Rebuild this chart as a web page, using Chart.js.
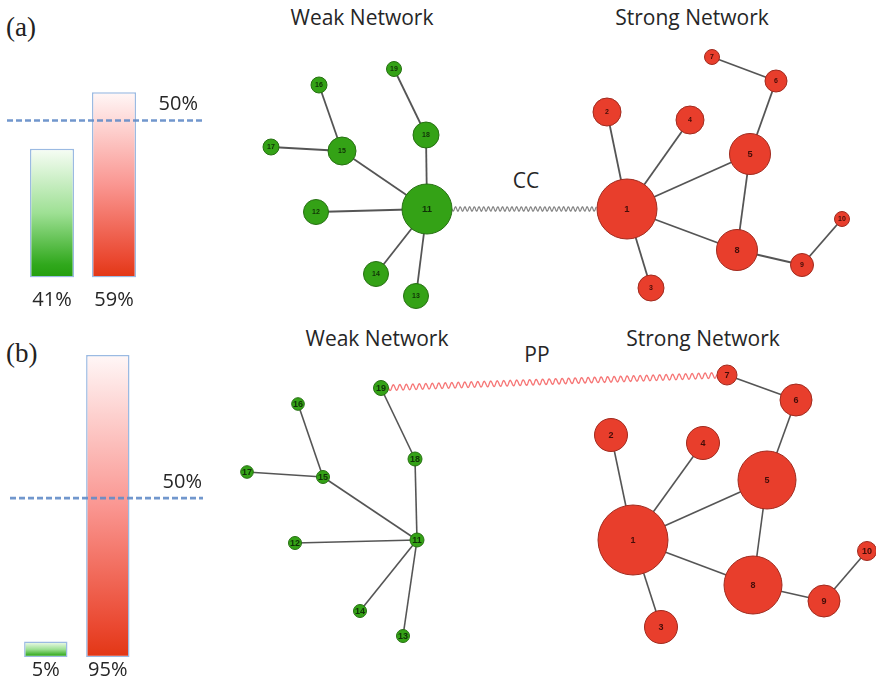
<!DOCTYPE html>
<html>
<head>
<meta charset="utf-8">
<script src="https://cdn.jsdelivr.net/npm/chart.js@4/dist/chart.umd.min.js"></script>
<style>
  html, body { margin: 0; padding: 0; background: #fff; }
  #fig { position: relative; width: 876px; height: 692px; overflow: hidden; background: #fff; }
  .box { position: absolute; }
  .lbl { position: absolute; transform: translate(-50%, -50%); white-space: nowrap; line-height: 1;
         color: #262626; font-family: "Open Sans", sans-serif; font-size: 21px; }
  .tag { position: absolute; line-height: 1; color: #222; font-family: "Liberation Serif", serif; font-size: 27px;
         transform: translateY(-50%); }
</style>
</head>
<body>
<div id="fig">
  <div class="tag" style="left:6px;top:27px">(a)</div>
  <div class="tag" style="left:6px;top:353px">(b)</div>

  <div class="lbl" style="left:362px;top:17px">Weak Network</div>
  <div class="lbl" style="left:692px;top:17px">Strong Network</div>
  <div class="lbl" style="left:526px;top:180px">CC</div>

  <div class="lbl" style="left:377px;top:338px">Weak Network</div>
  <div class="lbl" style="left:703px;top:338px">Strong Network</div>
  <div class="lbl" style="left:537px;top:354px">PP</div>

  <div class="box" style="left:0;top:0;width:210px;height:320px"><canvas id="barA"></canvas></div>
  <div class="box" style="left:0;top:320px;width:210px;height:372px"><canvas id="barB"></canvas></div>
  <div class="box" style="left:230px;top:30px;width:646px;height:290px"><canvas id="netA"></canvas></div>
  <div class="box" style="left:230px;top:355px;width:646px;height:337px"><canvas id="netB"></canvas></div>
</div>

<script>
// ---- data -------------------------------------------------------------
const groups = ['Weak', 'Strong'];
const shareCC = [41, 59];      // panel (a), percent
const sharePP = [5, 95];       // panel (b), percent
const threshold = 50;          // reference level, percent

// node layout: [id, x, y, size]
const weakNodesA = [
  [11, 427, 209, 25], [12, 316, 212, 12.5], [13, 416, 296, 12.5], [14, 376, 274, 12.5],
  [15, 342, 151, 14], [16, 319, 85, 8], [17, 271, 147, 8], [18, 426, 135, 13], [19, 394, 69, 7.5]
];
const strongNodesA = [
  [1, 627, 209, 30], [2, 607, 112, 14], [3, 651, 288, 13], [4, 690, 120, 14], [5, 750, 154, 20.5],
  [6, 776, 81, 11], [7, 712, 57, 7.5], [8, 737, 250, 20.5], [9, 802, 265, 11.5], [10, 842, 219, 7.5]
];
const weakNodesB = [
  [11, 417, 540, 7], [12, 295, 543, 6.5], [13, 403, 636, 6.5], [14, 360, 611, 6.5],
  [15, 323, 477, 6.5], [16, 298, 404, 6.3], [17, 247, 472, 6.3], [18, 415, 459, 7], [19, 381, 388, 7.5]
];
const strongNodesB = [
  [1, 633, 540, 35], [2, 611, 435, 16.5], [3, 661, 627, 16.5], [4, 703, 443, 16.5], [5, 767, 480, 29],
  [6, 796, 400, 16], [7, 727, 375, 10], [8, 753, 585, 29], [9, 824, 601, 16], [10, 867, 551, 9.5]
];
const weakEdges = [[19, 18], [18, 11], [16, 15], [17, 15], [15, 11], [12, 11], [14, 11], [13, 11]];
const strongEdges = [[7, 6], [6, 5], [2, 1], [4, 1], [5, 1], [5, 8], [1, 8], [1, 3], [8, 9], [9, 10]];
const bridgeCC = [11, 1];
const bridgePP = [19, 7];

// ---- bar panels -------------------------------------------------------
const GREEN_STOPS = [[0, 'rgb(36,158,14)'], [0.1, 'rgb(48,168,28)'], [0.5, 'rgb(158,224,148)'], [1, 'rgb(247,253,245)']];
const RED_STOPS = [[0, 'rgb(226,54,20)'], [0.1, 'rgb(234,72,48)'], [0.5, 'rgb(250,150,145)'], [1, 'rgb(255,247,247)']];

function barFill(ctx) {
  const chart = ctx.chart;
  if (!chart.chartArea) return 'rgba(0,0,0,0)';
  const ys = chart.scales.y;
  const g = chart.ctx.createLinearGradient(0, ys.getPixelForValue(0), 0, ys.getPixelForValue(ctx.raw));
  (ctx.dataIndex === 0 ? GREEN_STOPS : RED_STOPS).forEach(([o, c]) => g.addColorStop(o, c));
  return g;
}

const refLine = {
  id: 'refLine',
  afterDatasetsDraw(chart, args, o) {
    const c = chart.ctx;
    const y = chart.scales.y.getPixelForValue(o.value);
    c.save();
    c.strokeStyle = 'rgba(98,140,200,0.9)';
    c.lineWidth = 2.6;
    c.setLineDash([6, 3]);
    c.beginPath();
    c.moveTo(o.x1, y);
    c.lineTo(o.x2, y);
    c.stroke();
    c.setLineDash([]);
    c.fillStyle = '#262626';
    c.font = '20px "Open Sans", sans-serif';
    c.textAlign = 'right';
    c.textBaseline = 'middle';
    c.fillText(o.value + '%', o.textRight, y - 16);
    c.restore();
  }
};

const valueLabels = {
  id: 'valueLabels',
  afterDatasetsDraw(chart, args, o) {
    const c = chart.ctx;
    const meta = chart.getDatasetMeta(0);
    const base = chart.scales.y.getPixelForValue(0);
    c.save();
    c.fillStyle = '#262626';
    c.font = '20px "Open Sans", sans-serif';
    c.textAlign = 'center';
    c.textBaseline = 'middle';
    meta.data.forEach((bar, i) => {
      c.fillText(chart.data.datasets[0].data[i] + '%', bar.x, base + o.offset);
    });
    c.restore();
  }
};

function barPanel(id, values, yMax, padding, barPct, lineOpts, labelOffset) {
  return new Chart(document.getElementById(id), {
    type: 'bar',
    data: {
      labels: groups,
      datasets: [{
        data: values,
        backgroundColor: barFill,
        borderColor: 'rgba(150,182,224,0.95)',
        borderWidth: 1.5,
        borderSkipped: false,
        barPercentage: barPct,
        categoryPercentage: 1
      }]
    },
    options: {
      responsive: true, maintainAspectRatio: false, animation: false, events: [],
      layout: { padding },
      plugins: {
        legend: { display: false }, tooltip: { enabled: false },
        refLine: lineOpts,
        valueLabels: { offset: labelOffset }
      },
      scales: {
        x: { display: false },
        y: { display: false, min: 0, max: yMax }
      }
    },
    plugins: [refLine, valueLabels]
  });
}

barPanel('barA', shareCC, 70, { left: 21, right: 65, top: 57.7, bottom: 42.5 }, 0.712,
  { value: threshold, x1: 7, x2: 202, textRight: 198 }, 22.5);
barPanel('barB', sharePP, 100, { left: 14.8, right: 71.2, top: 19, bottom: 34.7 }, 0.70,
  { value: threshold, x1: 10, x2: 203, textRight: 202 }, 13);

// ---- network panels ---------------------------------------------------
const GREEN = { fill: 'rgb(52,162,22)', line: 'rgb(38,112,18)', text: 'rgba(10,30,5,0.85)' };
const RED = { fill: 'rgb(232,62,44)', line: 'rgb(160,42,30)', text: 'rgba(50,8,4,0.9)' };

const nodeLabels = {
  id: 'nodeLabels',
  afterDatasetsDraw(chart, args, o) {
    const c = chart.ctx;
    c.save();
    c.textAlign = 'center';
    c.textBaseline = 'middle';
    chart.data.datasets.forEach((ds, di) => {
      if (!ds.nodeIds) return;
      const meta = chart.getDatasetMeta(di);
      c.fillStyle = ds.labelColor;
      meta.data.forEach((el, i) => {
        const r = ds.data[i].r;
        const fs = o.fixed ? o.fixed : Math.max(7, Math.min(9.5, r * 0.45));
        c.font = 'bold ' + fs + 'px "Liberation Sans", sans-serif';
        c.fillText(String(ds.nodeIds[i]), el.x, el.y + 0.5);
      });
    });
    c.restore();
  }
};

const wavyLink = {
  id: 'wavyLink',
  beforeDatasetsDraw(chart, args, o) {
    const xs = chart.scales.x, ys = chart.scales.y;
    const a = o.from, b = o.to;
    const ax = xs.getPixelForValue(a[1]), ay = ys.getPixelForValue(a[2]);
    const bx = xs.getPixelForValue(b[1]), by = ys.getPixelForValue(b[2]);
    const len = Math.hypot(bx - ax, by - ay);
    const ux = (bx - ax) / len, uy = (by - ay) / len;
    const nx = -uy, ny = ux;
    const s = a[3], e = len - b[3];
    const c = chart.ctx;
    c.save();
    c.strokeStyle = o.color;
    c.lineWidth = o.width;
    c.beginPath();
    for (let t = s; t <= e; t += 0.5) {
      const w = o.amp * Math.sin(2 * Math.PI * (t - s) / o.wave);
      const px = ax + ux * t + nx * w, py = ay + uy * t + ny * w;
      if (t === s) c.moveTo(px, py); else c.lineTo(px, py);
    }
    c.stroke();
    c.restore();
  }
};

function edgeSets(nodes, edges, width) {
  const byId = Object.fromEntries(nodes.map(n => [n[0], n]));
  return edges.map(([p, q]) => ({
    type: 'line',
    data: [{ x: byId[p][1], y: byId[p][2] }, { x: byId[q][1], y: byId[q][2] }],
    borderColor: 'rgba(70,70,70,0.92)',
    borderWidth: width,
    pointRadius: 0,
    fill: false,
    clip: false,
    order: 3
  }));
}

function nodeSet(nodes, col) {
  return {
    type: 'bubble',
    data: nodes.map(n => ({ x: n[1], y: n[2], r: n[3] })),
    nodeIds: nodes.map(n => n[0]),
    labelColor: col.text,
    backgroundColor: col.fill,
    borderColor: col.line,
    borderWidth: 1,
    clip: false,
    order: 1
  };
}

function networkPanel(id, xr, yr, weak, strong, bridge, linkStyle, edgeWidth, labelFont) {
  const find = (list, k) => list.find(n => n[0] === k);
  return new Chart(document.getElementById(id), {
    type: 'bubble',
    data: {
      datasets: [
        ...edgeSets(weak, weakEdges, edgeWidth),
        ...edgeSets(strong, strongEdges, edgeWidth),
        nodeSet(weak, GREEN),
        nodeSet(strong, RED)
      ]
    },
    options: {
      responsive: true, maintainAspectRatio: false, animation: false, events: [],
      layout: { padding: 0, autoPadding: false },
      plugins: {
        legend: { display: false }, tooltip: { enabled: false },
        wavyLink: Object.assign({ from: find(weak, bridge[0]), to: find(strong, bridge[1]) }, linkStyle),
        nodeLabels: { fixed: labelFont }
      },
      scales: {
        x: { type: 'linear', display: false, min: xr[0], max: xr[1] },
        y: { type: 'linear', display: false, min: yr[0], max: yr[1], reverse: true }
      }
    },
    plugins: [wavyLink, nodeLabels]
  });
}

networkPanel('netA', [230, 876], [30, 320], weakNodesA, strongNodesA, bridgeCC,
  { color: 'rgba(120,120,120,0.9)', width: 1.2, amp: 2.2, wave: 4.7 }, 1.8, 0);
networkPanel('netB', [230, 876], [355, 692], weakNodesB, strongNodesB, bridgePP,
  { color: 'rgba(246,110,110,0.95)', width: 1.3, amp: 2.8, wave: 6.5 }, 1.6, 9);
</script>
</body>
</html>
